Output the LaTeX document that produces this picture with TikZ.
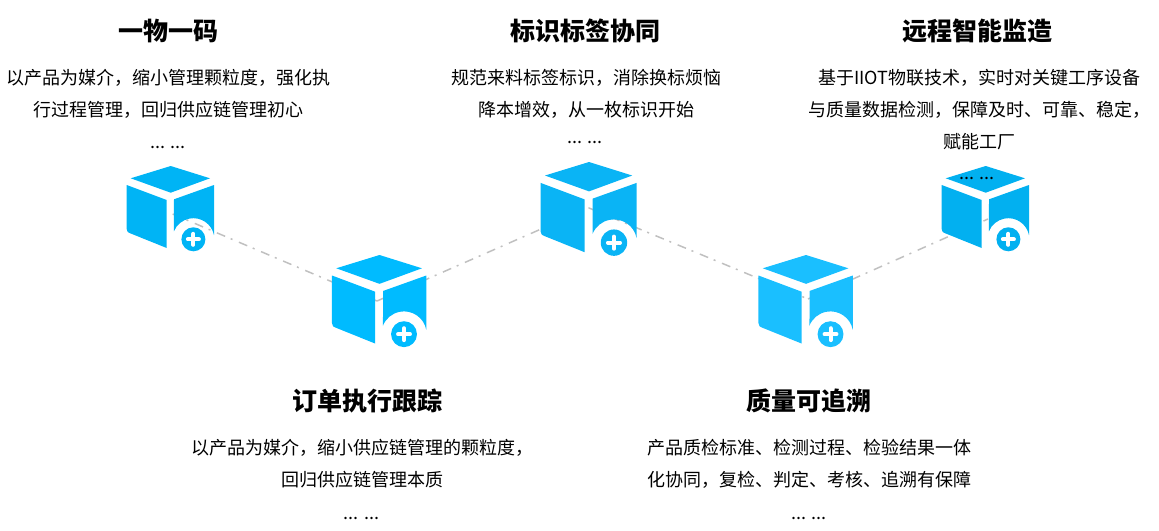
\documentclass[tikz,border=0pt]{standalone}
\usepackage{fontspec}
\setmainfont{Noto Sans CJK SC}
\definecolor{boxa}{HTML}{00B4F5}
\definecolor{boxb}{HTML}{00BBFF}
\definecolor{boxc}{HTML}{0AB4F5}
\definecolor{boxd}{HTML}{1ABFFF}
\definecolor{boxe}{HTML}{02B0F0}
\definecolor{linkgray}{HTML}{C0C0C0}
\tikzset{
  headline/.style={font=\fontsize{25}{30}\selectfont\bfseries,anchor=center},
  bodytext/.style={font=\fontsize{18}{32}\selectfont,align=center,anchor=north},
  dotline/.style={font=\fontsize{18}{20}\selectfont,anchor=center},
  link/.style={draw=linkgray,line width=1.5pt,dash pattern=on 9pt off 6pt on 2pt off 7pt},
  boxicon/.pic={
    \fill[pic actions] (-40,-12.3) -- (0,0) -- (39.3,-12.3) -- (0,-26.7) -- cycle;
    \fill[pic actions] (-44,-19) -- (-4,-34) -- (-4,-82) -- (-40,-67.5)
      .. controls (-43,-66.5) .. (-44,-63) -- cycle;
    \fill[pic actions] (3.3,-33.3) -- (43.3,-19) -- (43.3,-69.2)
      arc[start angle=11,end angle=158,radius=21] -- cycle;
    \fill[pic actions] (22.7,-73.3) circle[radius=12];
    \draw[white,line width=4pt,line cap=round] (17.2,-73.3) -- (28.2,-73.3) (22.7,-78.8) -- (22.7,-67.8);
  }
}
\begin{document}
\begin{tikzpicture}[x=1pt,y=1pt]
  \useasboundingbox (0,0) rectangle (1159,-530);
  % link ends
  \coordinate (hub1) at (172.7,-214);
  \coordinate (hub2) at (377,-301);
  \coordinate (hub3) at (589,-208);
  \coordinate (hub4) at (808,-299);
  \coordinate (hub5) at (988,-219);
  \draw[link] (hub1) -- (hub2);
  \draw[link] (hub2) -- (hub3);
  \draw[link] (hub3) -- (hub4);
  \draw[link] (hub4) -- (hub5);
  % boxes
  \pic[fill=boxa] (box1) at (170.7,-166) {boxicon};
  \pic[fill=boxb,scale=1.08] (box2) at (379.5,-255) {boxicon};
  \pic[fill=boxc,scale=1.1] (box3) at (589,-162) {boxicon};
  \pic[fill=boxd,scale=1.08] (box4) at (806,-255) {boxicon};
  \pic[fill=boxe] (box5) at (985.7,-166) {boxicon};
  % upper texts
  \node[headline] (title1) at (168,-31) {一物一码};
  \node[bodytext] (text1) at (168,-65.5) {以产品为媒介，缩小管理颗粒度，强化执\\行过程管理，回归供应链管理初心};
  \node[dotline] (dots1) at (168,-147) {... ...};
  \node[headline] (title3) at (585,-31) {标识标签协同};
  \node[bodytext] (text3) at (586,-65.5) {规范来料标签标识，消除换标烦恼\\降本增效，从一枚标识开始};
  \node[dotline] (dots3) at (585,-142) {... ...};
  \node[headline] (title5) at (977,-31) {远程智能监造};
  \node[bodytext] (text5) at (979.5,-65.5) {基于IIOT物联技术，实时对关键工序设备\\与质量数据检测，保障及时、可靠、稳定，\\赋能工厂};
  \node[dotline] (dots5) at (977,-178) {... ...};
  % lower texts
  \node[headline] (title2) at (367,-400.5) {订单执行跟踪};
  \node[bodytext] (text2) at (362.5,-436) {以产品为媒介，缩小供应链管理的颗粒度，\\回归供应链管理本质};
  \node[dotline] (dots2) at (361.5,-518) {... ...};
  \node[headline] (title4) at (808.5,-400.5) {质量可追溯};
  \node[bodytext] (text4) at (809,-436) {产品质检标准、检测过程、检验结果一体\\化协同，复检、判定、考核、追溯有保障};
  \node[dotline] (dots4) at (809,-518) {... ...};
\end{tikzpicture}
\end{document}
